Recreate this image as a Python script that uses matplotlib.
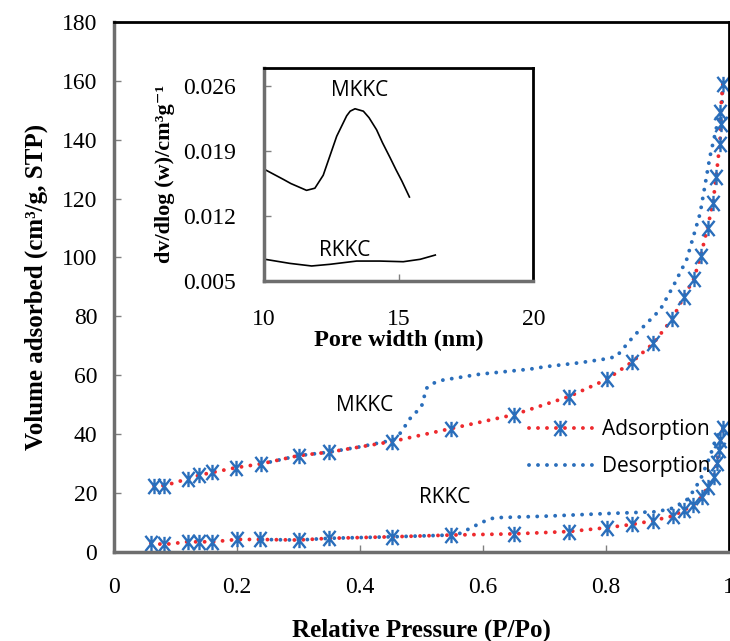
import numpy as np
import matplotlib
matplotlib.use('Agg')
import matplotlib.pyplot as plt
from matplotlib.path import Path
from matplotlib.lines import Line2D

# ---- main isotherm data (P/Po, cm3/g STP) ----
mkkc_ads_x = [0.065, 0.082, 0.120, 0.138, 0.160, 0.198, 0.239, 0.300, 0.350, 0.452,
              0.548, 0.650, 0.740, 0.801, 0.842, 0.877, 0.908, 0.926, 0.943, 0.954,
              0.965, 0.974, 0.979, 0.985, 0.987, 0.986, 0.990]
mkkc_ads_y = [22.4, 22.4, 24.7, 25.9, 26.9, 28.5, 29.8, 32.6, 33.8, 37.4,
              41.8, 46.5, 52.7, 58.5, 64.4, 70.8, 79.2, 86.4, 92.8, 100.5,
              110.1, 118.6, 127.4, 138.7, 145.5, 149.3, 159.0]
mkkc_des_x = [0.990, 0.988, 0.980, 0.969, 0.953, 0.931, 0.909, 0.888, 0.861, 0.847,
              0.836, 0.817, 0.800, 0.758, 0.700, 0.676, 0.595, 0.535, 0.519, 0.508,
              0.500, 0.479, 0.468, 0.454, 0.400, 0.350, 0.300, 0.240]
mkkc_des_y = [159.0, 150.0, 144.5, 134.3, 115.0, 99.2, 90.1, 82.2, 76.5, 73.7,
              71.0, 66.3, 65.5, 64.2, 62.8, 62.0, 60.3, 58.3, 57.2, 55.5,
              49.3, 44.7, 40.8, 37.9, 35.6, 33.8, 32.6, 29.8]

rkkc_ads_x = [0.060, 0.082, 0.120, 0.138, 0.160, 0.200, 0.237, 0.300, 0.350, 0.452,
              0.548, 0.650, 0.740, 0.801, 0.842, 0.877, 0.909, 0.927, 0.942, 0.956,
              0.966, 0.975, 0.980, 0.984, 0.986, 0.990]
rkkc_ads_y = [2.8, 2.4, 3.3, 3.3, 3.3, 4.1, 4.1, 3.9, 4.5, 5.0,
              5.6, 6.0, 6.8, 8.1, 9.2, 10.5, 12.1, 14.1, 15.8, 18.7,
              22.1, 25.5, 30.0, 34.5, 37.9, 41.9]
rkkc_des_x = [0.990, 0.985, 0.977, 0.969, 0.953, 0.940, 0.931, 0.920, 0.905, 0.880,
              0.800, 0.700, 0.620, 0.610, 0.595, 0.579, 0.563, 0.548, 0.452, 0.350,
              0.300, 0.237]
rkkc_des_y = [41.9, 41.3, 37.4, 32.3, 24.3, 20.0, 17.5, 16.0, 14.5, 13.5,
              12.9, 12.0, 11.5, 11.0, 9.6, 7.9, 6.2, 5.6, 5.0, 4.5,
              3.9, 4.1]

# ---- inset pore size distribution ----
psd_mkkc_w = [10.04, 10.72, 11.0, 11.58, 11.89, 12.20, 12.45, 12.70, 13.07, 13.2,
              13.38, 13.69, 13.9, 14.18, 14.4, 14.68, 14.9, 15.12, 15.40]
psd_mkkc_v = [0.0170, 0.01595, 0.0155, 0.01477, 0.01500, 0.01640, 0.0185, 0.0206,
              0.02280, 0.0233, 0.02356, 0.0233, 0.0226, 0.0213, 0.0199, 0.01830,
              0.0170, 0.01577, 0.01405]
psd_rkkc_w = [10.04, 10.96, 11.77, 12.45, 13.44, 14.30, 15.17, 15.80, 16.36]
psd_rkkc_v = [0.00734, 0.0069, 0.00662, 0.0068, 0.00715, 0.00715, 0.00708,
              0.00734, 0.0078]

red = '#ee2a2e'
blue = '#2a6ebb'

# excel-like star marker: X plus a vertical bar
star = Path([(-0.8, -1), (0.8, 1), (-0.8, 1), (0.8, -1), (0, -1), (0, 1)],
            [Path.MOVETO, Path.LINETO, Path.MOVETO, Path.LINETO, Path.MOVETO, Path.LINETO])

serif = ['Liberation Serif', 'DejaVu Serif']
sans = 'Open Sans'

fig = plt.figure(figsize=(7.30, 6.41), dpi=100)
ax = fig.add_axes([0.1562, 0.1396, 0.8425, 0.826])

dots = dict(linestyle=(0, (0.01, 2.3)), dash_capstyle='round', linewidth=2.8)
mk = dict(marker=star, markersize=11, markeredgecolor=blue, markeredgewidth=1.7)

ax.plot(mkkc_des_x, mkkc_des_y, color=blue, **dots)
ax.plot(rkkc_des_x, rkkc_des_y, color=blue, **dots)
ax.plot(mkkc_ads_x, mkkc_ads_y, color=red, **mk, **dots)
ax.plot(rkkc_ads_x, rkkc_ads_y, color=red, **mk, **dots)

ax.set_xlim(0, 1)
ax.set_ylim(0, 180)
ax.set_xticks([0, 0.2, 0.4, 0.6, 0.8, 1])
ax.set_xticklabels(['0', '0.2', '0.4', '0.6', '0.8', '1'])
ax.set_yticks(range(0, 181, 20))
ax.tick_params(direction='in', length=5, width=1, color='#808080',
               labelsize=17, pad=12)
for lab in ax.get_xticklabels() + ax.get_yticklabels():
    lab.set_family(serif)
ax.tick_params(axis='x', pad=18)
for s in ['left', 'bottom']:
    ax.spines[s].set_color('#6e6e6e')
    ax.spines[s].set_linewidth(2.5)
for s in ['top', 'right']:
    ax.spines[s].set_color('black')
    ax.spines[s].set_linewidth(2)

ax.set_xlabel('Relative Pressure (P/Po)', family=serif, fontsize=18,
              fontweight='bold', labelpad=15)
ax.set_ylabel('Volume adsorbed (cm³/g, STP)', family=serif, fontsize=18,
              fontweight='bold', labelpad=10)

ax.text(0.408, 49.8, 'MKKC', family=sans, fontsize=15, ha='center', va='center')
ax.text(0.538, 18.5, 'RKKC', family=sans, fontsize=15, ha='center', va='center')

h1 = Line2D([], [], color=red, **mk, **dots)
h2 = Line2D([], [], color=blue, **dots)
ax.legend([h1, h2], ['Adsorption', 'Desorption'], loc='center left',
          bbox_to_anchor=(0.675, 0.195), frameon=False, handlelength=3.0,
          handletextpad=0.5, labelspacing=0.75, borderpad=0, borderaxespad=0,
          prop={'family': sans, 'size': 15})

# ---- inset ----
ins = fig.add_axes([0.3616, 0.5616, 0.369, 0.333])
ins.plot(psd_mkkc_w, psd_mkkc_v, color='black', linewidth=1.2)
ins.plot(psd_rkkc_w, psd_rkkc_v, color='black', linewidth=1.2)
ins.set_xlim(10, 20)
ins.set_ylim(0.005, 0.028)
ins.set_xticks([10, 15, 20])
ins.set_yticks([0.005, 0.012, 0.019, 0.026])
ins.set_yticklabels(['0.005', '0.012', '0.019', '0.026'])
ins.tick_params(direction='in', length=5, width=1, color='#808080',
                labelsize=17)
ins.tick_params(axis='y', pad=20)
ins.tick_params(axis='x', pad=20)
for lab in ins.get_xticklabels() + ins.get_yticklabels():
    lab.set_family(serif)
for s in ['left', 'bottom']:
    ins.spines[s].set_color('#6e6e6e')
    ins.spines[s].set_linewidth(2.5)
for s in ['top', 'right']:
    ins.spines[s].set_color('black')
    ins.spines[s].set_linewidth(2)
ins.set_xlabel('Pore width (nm)', family=serif, fontsize=17.5,
               fontweight='bold', labelpad=0)
ins.set_ylabel('dv/dlog (w)/cm³g⁻¹', family=serif, fontsize=16,
               fontweight='bold', labelpad=6)
ins.text(13.56, 0.0255, 'MKKC', family=sans, fontsize=15, ha='center', va='center')
ins.text(13.0, 0.0083, 'RKKC', family=sans, fontsize=15, ha='center', va='center')

fig.savefig('out.png', dpi=100)
